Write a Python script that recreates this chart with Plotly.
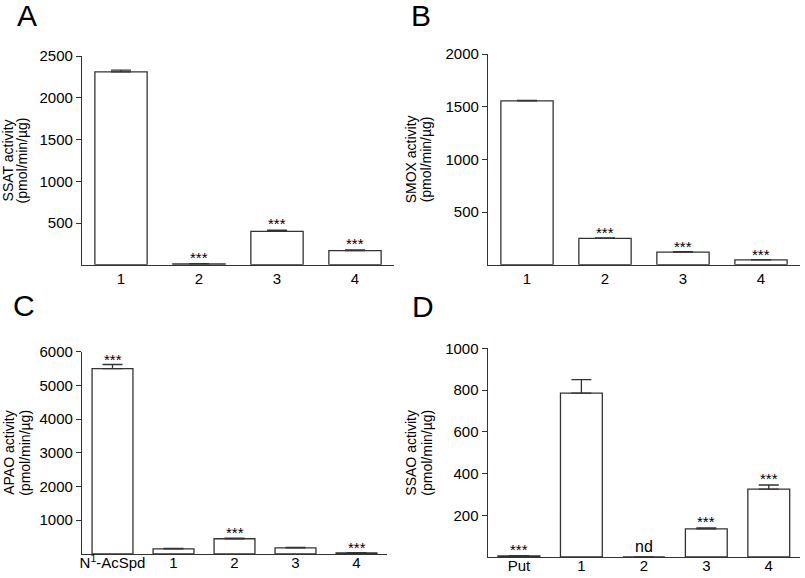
import plotly.graph_objects as go

# ---- data ----
a_cats = ["1", "2", "3", "4"]
a_vals = [2310, 10, 400, 170]
a_err = [20, 3, 15, 8]
a_sig = ["", "***", "***", "***"]

b_cats = ["1", "2", "3", "4"]
b_vals = [1555, 250, 120, 45]
b_err = [5, 5, 3, 3]
b_sig = ["", "***", "***", "***"]

c_cats = ["N<sup>1</sup>-AcSpd", "1", "2", "3", "4"]
c_vals = [5500, 150, 450, 180, 30]
c_err = [120, 10, 20, 10, 5]
c_sig = ["***", "", "***", "", "***"]

d_cats = ["Put", "1", "2", "3", "4"]
d_vals = [5, 785, 0, 135, 325]
d_err = [2, 65, 0, 5, 20]
d_sig = ["***", "", "nd", "***", "***"]

W, H = 805, 578
FONT = "Liberation Sans, Arial, sans-serif"
LINE = "#333333"

panels = [
    dict(key="", cats=a_cats, vals=a_vals, err=a_err, sig=a_sig, ymax=2500, dtick=500,
         xdom=(82, 394), ydom=(56, 264.75), letter="A", lx=27, ly=16,
         t1="SSAT activity", t2="(pmol/min/µg)", tx1=8, tx2=22, standoff=0, sshift=-4),
    dict(key="2", cats=b_cats, vals=b_vals, err=b_err, sig=b_sig, ymax=2000, dtick=500,
         xdom=(488, 800), ydom=(54, 264.7), letter="B", lx=421, ly=16,
         t1="SMOX activity", t2="(pmol/min/µg)", tx1=411, tx2=426, standoff=0, sshift=-5),
    dict(key="3", cats=c_cats, vals=c_vals, err=c_err, sig=c_sig, ymax=6000, dtick=1000,
         xdom=(82, 387), ydom=(351.7, 553.9), letter="C", lx=24, ly=305,
         t1="APAO activity", t2="(pmol/min/µg)", tx1=9, tx2=25, standoff=-5, sshift=-5),
    dict(key="4", cats=d_cats, vals=d_vals, err=d_err, sig=d_sig, ymax=1000, dtick=200,
         xdom=(487.7, 800), ydom=(348.3, 557), letter="D", lx=423, ly=306,
         t1="SSAO activity", t2="(pmol/min/µg)", tx1=411, tx2=427, standoff=-5, sshift=-4),
]

fig = go.Figure()
annotations = []
layout = {}

for p in panels:
    k = p["key"]
    n = len(p["cats"])
    xs = list(range(n))
    fig.add_trace(go.Bar(
        x=xs, y=p["vals"], width=0.67,
        marker=dict(color="white", line=dict(color=LINE, width=1.3)),
        error_y=dict(type="data", array=p["err"], arrayminus=[0] * n, symmetric=False,
                     color=LINE, thickness=1.3, width=10),
        xaxis="x" + k, yaxis="y" + k, showlegend=False,
    ))
    layout["xaxis" + k] = dict(
        domain=[p["xdom"][0] / W, p["xdom"][1] / W], range=[-0.5, n - 0.5],
        tickvals=xs, ticktext=p["cats"], ticks="", showgrid=False, zeroline=False,
        showline=True, linecolor=LINE, linewidth=1.3, anchor="y" + k,
        tickfont=dict(family=FONT, size=15, color="black"),
        ticklabelstandoff=p["standoff"], fixedrange=True, automargin=False,
    )
    layout["yaxis" + k] = dict(
        domain=[1 - p["ydom"][1] / H, 1 - p["ydom"][0] / H], range=[0, p["ymax"]],
        tickvals=list(range(p["dtick"], p["ymax"] + 1, p["dtick"])),
        ticks="outside", ticklen=5, tickwidth=1.3, tickcolor=LINE,
        showgrid=False, zeroline=False, showline=True, linecolor=LINE, linewidth=1.3,
        anchor="x" + k, tickfont=dict(family=FONT, size=15, color="black"),
        fixedrange=True, automargin=False,
    )
    for i, s in enumerate(p["sig"]):
        if not s:
            continue
        top = p["vals"][i] + p["err"][i]
        annotations.append(dict(
            x=i, y=top, xref="x" + k, yref="y" + k, text=s, showarrow=False,
            yanchor="bottom", yshift=(p["sshift"] if s == "***" else 0),
            font=dict(family=FONT, size=15 if s == "***" else 16, color="black"),
        ))
    annotations.append(dict(
        x=p["lx"] / W, y=1 - p["ly"] / H, xref="paper", yref="paper", text=p["letter"],
        showarrow=False, xanchor="center", yanchor="middle",
        font=dict(family=FONT, size=30, color="black"),
    ))
    yc = 1 - (p["ydom"][0] + p["ydom"][1]) / 2 / H
    for t, tx in ((p["t1"], p["tx1"]), (p["t2"], p["tx2"])):
        annotations.append(dict(
            x=tx / W, y=yc, xref="paper", yref="paper", text=t, textangle=-90,
            showarrow=False, xanchor="center", yanchor="middle",
            font=dict(family=FONT, size=14, color="black"),
        ))

fig.update_layout(
    width=W, height=H, margin=dict(l=0, r=0, t=0, b=0, pad=0, autoexpand=False),
    paper_bgcolor="white", plot_bgcolor="white",
    annotations=annotations, bargap=0.33, **layout,
)
fig.write_html(
    "out.html",
    config={"displayModeBar": False},
    post_script=(
        "document.documentElement.style.margin='0';"
        "document.body.style.margin='0';document.body.style.overflow='hidden';"
        "var gd=document.getElementById('{plot_id}');"
        "gd.style.position='fixed';gd.style.left='0px';gd.style.top='0px';"
    ),
)
